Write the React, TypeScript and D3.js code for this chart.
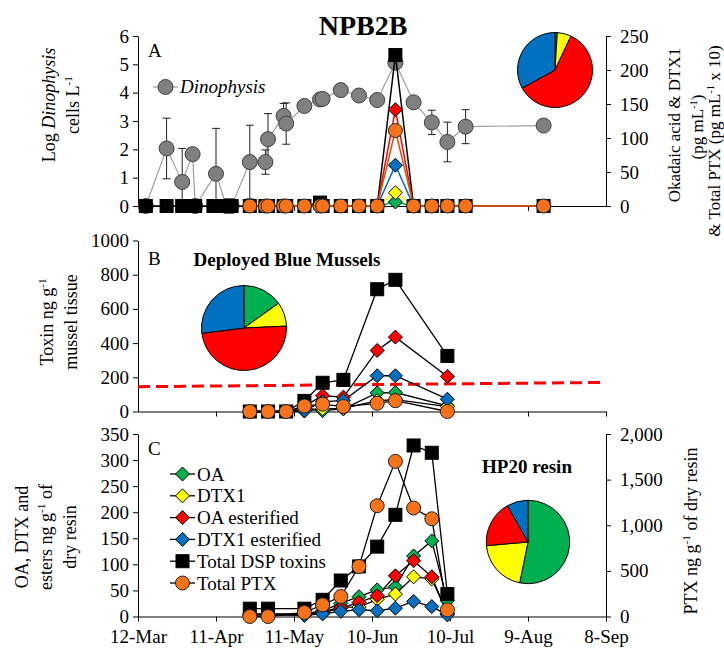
import React, { useEffect, useRef } from "react";
import * as d3 from "d3";

const FONT = "'Liberation Serif', 'Times New Roman', serif";
const parse = d3.timeParse("%Y-%m-%d");

// x axis ticks (every 30 days)
const tickDates = ["2014-03-12", "2014-04-11", "2014-05-11", "2014-06-10", "2014-07-10", "2014-08-09", "2014-09-08"];

// Panel A - Dinophysis (log cells/L)
const dinoDates = ["2014-03-15", "2014-03-23", "2014-03-29", "2014-04-02", "2014-04-03", "2014-04-11", "2014-04-15", "2014-04-17", "2014-04-24", "2014-04-30", "2014-05-01", "2014-05-07", "2014-05-08", "2014-05-15", "2014-05-21", "2014-05-22", "2014-05-29", "2014-06-05", "2014-06-12", "2014-06-19", "2014-06-26", "2014-07-03", "2014-07-09", "2014-07-16", "2014-08-15"];
const dinoLog = [0, 2.03, 0.85, 1.83, 0, 1.14, 0, 0, 1.55, 1.55, 2.36, 3.18, 2.91, 3.53, 3.76, 3.78, 4.09, 3.9, 3.74, 5.06, 3.66, 2.95, 2.26, 2.8, 2.84];
const dinoErr = [0, 1.07, 1.18, 0, 0, 1.6, 0, 0, 1.3, 0.43, 0.9, 0.44, 0.73, 0, 0, 0, 0, 0, 0, 0, 0, 0.43, 0.7, 0.6, 0];

// Panel A - toxins in water (pg/mL, PTX /10)
const waterDates = ["2014-03-15", "2014-03-23", "2014-03-29", "2014-03-31", "2014-04-03", "2014-04-10", "2014-04-12", "2014-04-15", "2014-04-17", "2014-04-24", "2014-04-30", "2014-05-01", "2014-05-07", "2014-05-08", "2014-05-15", "2014-05-21", "2014-05-22", "2014-05-29", "2014-06-05", "2014-06-12", "2014-06-19", "2014-06-26", "2014-07-03", "2014-07-09", "2014-07-16", "2014-08-15"];
const waterDSP = [0, 0, 0, 0, 0, 0, 0, 0, 0, 0, 0, 0, 0, 0, 0, 5, 0, 0, 0, 0, 222, 0, 0, 0, 0, 0];
const waterOA = [null, null, null, null, null, null, null, null, null, 0, 0, 0, 0, 0, 0, 0, 0, 0, 0, 0, 5.9, 0, 0, 0, 0, 0];
const waterDTX1 = [null, null, null, null, null, null, null, null, null, 0, 0, 0, 0, 0, 0, 0, 0, 0, 0, 0, 19.6, 0, 0, 0, 0, 0];
const waterOAest = [null, null, null, null, null, null, null, null, null, 0, 0, 0, 0, 0, 0, 0, 0, 0, 0, 0, 141.6, 0, 0, 0, 0, 0];
const waterDTX1est = [null, null, null, null, null, null, null, null, null, 0, 0, 0, 0, 0, 0, 0, 0, 0, 0, 0, 60, 0, 0, 0, 0, 0];
const waterPTX = [null, null, null, null, null, null, null, null, null, 0, 0, 0, 0, 0, 0, 0, 0, 0, 0, 0, 111, 0, 0, 0, 0, 0];
const pieA = [1, 6, 60, 33]; // OA, DTX1, OA est, DTX1 est

// Panel B - deployed blue mussels (ng/g)
const musselDates = ["2014-04-24", "2014-05-01", "2014-05-08", "2014-05-15", "2014-05-22", "2014-05-30", "2014-06-12", "2014-06-19", "2014-07-09"];
const musselDSP = [0, 0, 0, 62, 168, 185, 715, 770, 325];
const musselOA = [0, 0, 0, 22, 5, 15, 109, 111, 33];
const musselDTX1 = [0, 0, 0, 3, 16, 18, 63, 70, 29];
const musselOAest = [0, 0, 0, 32, 92, 84, 357, 435, 205];
const musselDTX1est = [0, 0, 0, 5, 58, 64, 209, 209, 72];
const musselPTX = [0, 0, 0, 32, 43, 29, 48, 63, 0];
const musselLimit = [145, 170]; // regulatory line, start / end
const pieB = [15.1, 9.2, 48.7, 27];

// Panel C - HP20 resin (ng/g dry resin)
const resinDates = ["2014-04-24", "2014-05-01", "2014-05-15", "2014-05-22", "2014-05-29", "2014-06-05", "2014-06-12", "2014-06-19", "2014-06-26", "2014-07-03", "2014-07-09"];
const resinDSP = [15, 15, 15, 32, 69, 96, 134, 195, 328, 314, 43];
const resinOA = [5, 5, 5, 11, 25, 38, 51, 57, 116, 145, 30];
const resinDTX1 = [3, 3, 3, 9, 18, 18, 33, 43, 76, 72, 6];
const resinOAest = [4, 4, 4, 7, 16, 27, 40, 78, 107, 76, 5];
const resinDTX1est = [3, 3, 2, 5, 10, 13, 11, 16, 29, 19, 3];
const resinPTX = [0, 0, 44, 128, 219, 548, 1214, 1700, 1189, 1071, 73];
const pieC = [53.2, 20.4, 18.2, 8.2];

const legendNames = ["OA", "DTX1", "OA esterified", "DTX1 esterified", "Total DSP toxins", "Total PTX"];

const C = {
  OA: "#00b050",
  DTX1: "#ffff00",
  OAest: "#ff0000",
  DTX1est: "#0070c0",
  DSP: "#000000",
  PTX: "#f6731a",
};
const pieColors = [C.OA, C.DTX1, C.OAest, C.DTX1est];

type Seg = { t: string; italic?: boolean; sup?: boolean; bold?: boolean };

function richText(parent: any, x: number, y: number, segs: Seg[], size: number, rotate = 0, anchor = "middle") {
  const t = parent
    .append("text")
    .attr("transform", `translate(${x},${y}) rotate(${rotate})`)
    .attr("text-anchor", anchor)
    .attr("font-family", FONT)
    .attr("font-size", size)
    .attr("fill", "#000");
  let shifted = false;
  segs.forEach((s) => {
    const ts = t.append("tspan").text(s.t);
    if (s.italic) ts.attr("font-style", "italic");
    if (s.bold) ts.attr("font-weight", "bold");
    if (s.sup) {
      ts.attr("font-size", size * 0.62).attr("dy", -size * 0.38);
      shifted = true;
    } else if (shifted) {
      ts.attr("dy", size * 0.38);
      shifted = false;
    }
  });
  return t;
}

function marker(g: any, kind: string, cx: number, cy: number, fill: string) {
  if (kind === "square") {
    g.append("rect").attr("x", cx - 6.5).attr("y", cy - 6.5).attr("width", 13).attr("height", 13)
      .attr("fill", fill).attr("stroke", "#000").attr("stroke-width", 1);
  } else if (kind === "diamond") {
    g.append("path").attr("d", `M${cx},${cy - 7}L${cx + 7},${cy}L${cx},${cy + 7}L${cx - 7},${cy}Z`)
      .attr("fill", fill).attr("stroke", "#000").attr("stroke-width", 1);
  } else {
    g.append("circle").attr("cx", cx).attr("cy", cy).attr("r", kind === "gray" ? 7.5 : 7)
      .attr("fill", fill).attr("stroke", kind === "gray" ? "#404040" : "#222").attr("stroke-width", 1);
  }
}

function App() {
  const ref = useRef<SVGSVGElement>(null);

  useEffect(() => {
    document.body.style.margin = "0";
    const svg = d3.select(ref.current);
    svg.selectAll("*").remove();

    const x = d3.scaleTime().domain([parse(tickDates[0])!, parse(tickDates[6])!]).range([138, 606]);
    const ticks = tickDates.map((d) => parse(d)!);

    const yA = d3.scaleLinear().domain([0, 6]).range([206, 36]);
    const yA2 = d3.scaleLinear().domain([0, 250]).range([206, 36]);
    const yB = d3.scaleLinear().domain([0, 1000]).range([411.5, 240.5]);
    const yC = d3.scaleLinear().domain([0, 350]).range([616.5, 434]);
    const yC2 = d3.scaleLinear().domain([0, 2000]).range([616.5, 434]);
    const fmtInt = d3.format("d");

    const styleAxis = (g: any) => {
      g.attr("font-family", FONT).attr("font-size", 19);
      g.selectAll("path,line").attr("stroke", "#000");
      g.selectAll("text").attr("fill", "#000");
    };

    // ---- axes ----
    const axA = svg.append("g");
    axA.append("g").attr("transform", "translate(138,0)")
      .call(d3.axisLeft(yA).tickValues(d3.range(0, 7)).tickFormat(fmtInt as any).tickSize(5).tickSizeOuter(0).tickPadding(4)).call(styleAxis);
    axA.append("g").attr("transform", "translate(606,0)")
      .call(d3.axisRight(yA2).tickValues(d3.range(0, 251, 50)).tickFormat(fmtInt as any).tickSize(5).tickSizeOuter(0).tickPadding(9)).call(styleAxis);
    axA.append("g").attr("transform", `translate(0,${yA(0)})`)
      .call(d3.axisBottom(x).tickValues(ticks.slice(1, 6)).tickFormat(() => "").tickSize(5).tickSizeOuter(0)).call(styleAxis);

    const axB = svg.append("g");
    axB.append("g").attr("transform", "translate(138,0)")
      .call(d3.axisLeft(yB).tickValues(d3.range(0, 1001, 200)).tickFormat(fmtInt as any).tickSize(5).tickSizeOuter(0).tickPadding(4)).call(styleAxis);
    axB.append("g").attr("transform", `translate(0,${yB(0)})`)
      .call(d3.axisBottom(x).tickValues(ticks.slice(1)).tickFormat(() => "").tickSize(5).tickSizeOuter(0)).call(styleAxis);

    const axC = svg.append("g");
    axC.append("g").attr("transform", "translate(138,0)")
      .call(d3.axisLeft(yC).tickValues(d3.range(0, 351, 50)).tickFormat(fmtInt as any).tickSize(5).tickSizeOuter(0).tickPadding(4)).call(styleAxis);
    axC.append("g").attr("transform", "translate(606,0)")
      .call(d3.axisRight(yC2).tickValues(d3.range(0, 2001, 500)).tickFormat(d3.format(",")).tickSize(5).tickSizeOuter(0).tickPadding(9)).call(styleAxis);
    axC.append("g").attr("transform", `translate(0,${yC(0)})`)
      .call(d3.axisBottom(x).tickValues(ticks).tickFormat(d3.timeFormat("%-d-%b") as any).tickSize(5).tickSizeOuter(0).tickPadding(8)).call(styleAxis);

    // ---- titles and labels ----
    svg.append("text").attr("x", 363).attr("y", 35).attr("text-anchor", "middle")
      .attr("font-family", FONT).attr("font-weight", "bold").attr("font-size", 28).text("NPB2B");
    richText(svg, 148, 57, [{ t: "A" }], 19, 0, "start");
    richText(svg, 148, 265, [{ t: "B" }], 19, 0, "start");
    richText(svg, 148, 455, [{ t: "C" }], 19, 0, "start");
    richText(svg, 287, 266, [{ t: "Deployed Blue Mussels", bold: true }], 19);
    richText(svg, 527, 473, [{ t: "HP20 resin", bold: true }], 19);

    richText(svg, 55, 105, [{ t: "Log " }, { t: "Dinophysis", italic: true }], 18, -90);
    richText(svg, 79, 105, [{ t: "cells L" }, { t: "-1", sup: true }], 18, -90);
    richText(svg, 53, 322, [{ t: "Toxin ng g" }, { t: "-1", sup: true }], 18, -90);
    richText(svg, 77, 322, [{ t: "mussel tissue" }], 18, -90);
    richText(svg, 28, 537, [{ t: "OA, DTX and" }], 18, -90);
    richText(svg, 52, 537, [{ t: "esters ng g" }, { t: "-1", sup: true }, { t: " of" }], 18, -90);
    richText(svg, 76, 537, [{ t: "dry resin" }], 18, -90);

    richText(svg, 680, 125, [{ t: "Okadaic acid & DTX1" }], 17, -90);
    richText(svg, 703, 127, [{ t: "(pg mL" }, { t: "-1", sup: true }, { t: ")" }], 17, -90);
    richText(svg, 720, 141, [{ t: "& Total PTX (pg mL" }, { t: "-1", sup: true }, { t: " x 10)" }], 17, -90);
    richText(svg, 697, 531, [{ t: "PTX ng g" }, { t: "-1", sup: true }, { t: " of dry resin" }], 18, -90);

    // ---- helpers ----
    const lineOf = (g: any, dates: string[], vals: (number | null)[], y: any, color: string, w: number) => {
      const pts = dates.map((d, i) => [parse(d)!, vals[i]] as [Date, number | null]).filter((p) => p[1] !== null);
      const gen = d3.line<[Date, number | null]>().x((p) => x(p[0])).y((p) => y(p[1] as number));
      g.append("path").attr("d", gen(pts)).attr("fill", "none").attr("stroke", color).attr("stroke-width", w);
    };
    const marksOf = (g: any, dates: string[], vals: (number | null)[], y: any, kind: string, fill: string) => {
      dates.forEach((d, i) => {
        if (vals[i] === null) return;
        marker(g, kind, x(parse(d)!), y(vals[i] as number), fill);
      });
    };
    const pieOf = (g: any, cx: number, cy: number, r: number, vals: number[]) => {
      const arcs = d3.pie<number>().sort(null).value((d) => d)(vals);
      const arc = d3.arc<d3.PieArcDatum<number>>().innerRadius(0).outerRadius(r);
      const pg = g.append("g").attr("transform", `translate(${cx},${cy})`);
      pg.selectAll("path").data(arcs).enter().append("path")
        .attr("d", arc as any).attr("fill", (_: any, i: number) => pieColors[i])
        .attr("stroke", "#000").attr("stroke-width", 1);
    };

    // ---- panel A ----
    const gA = svg.append("g");
    lineOf(gA, dinoDates, dinoLog, yA, "#a0a0a0", 1.2);
    dinoDates.forEach((d, i) => {
      const e = dinoErr[i];
      if (!e) return;
      const cx = x(parse(d)!);
      const top = yA(dinoLog[i] + e);
      const lowVal = dinoLog[i] - e;
      const bot = yA(Math.max(0, lowVal));
      gA.append("line").attr("x1", cx).attr("x2", cx).attr("y1", top).attr("y2", bot).attr("stroke", "#222").attr("stroke-width", 1);
      gA.append("line").attr("x1", cx - 4).attr("x2", cx + 4).attr("y1", top).attr("y2", top).attr("stroke", "#222");
      if (lowVal > 0) gA.append("line").attr("x1", cx - 4).attr("x2", cx + 4).attr("y1", bot).attr("y2", bot).attr("stroke", "#222");
    });
    marksOf(gA, dinoDates, dinoLog, yA, "gray", "#808080");

    lineOf(gA, waterDates, waterDSP, yA2, C.DSP, 1.5);
    lineOf(gA, waterDates, waterOA, yA2, C.OA, 1.5);
    lineOf(gA, waterDates, waterDTX1, yA2, C.DTX1, 1.5);
    lineOf(gA, waterDates, waterDTX1est, yA2, C.DTX1est, 1.5);
    lineOf(gA, waterDates, waterOAest, yA2, C.OAest, 1.5);
    lineOf(gA, waterDates, waterPTX, yA2, "#c55a11", 1.5);
    marksOf(gA, waterDates, waterDSP, yA2, "square", C.DSP);
    marksOf(gA, waterDates, waterOA, yA2, "diamond", C.OA);
    marksOf(gA, waterDates, waterDTX1, yA2, "diamond", C.DTX1);
    marksOf(gA, waterDates, waterOAest, yA2, "diamond", C.OAest);
    marksOf(gA, waterDates, waterDTX1est, yA2, "diamond", C.DTX1est);
    marksOf(gA, waterDates, waterPTX, yA2, "circle", C.PTX);

    // legend A
    gA.append("line").attr("x1", 153).attr("x2", 178).attr("y1", 87).attr("y2", 87).attr("stroke", "#a0a0a0").attr("stroke-width", 1.2);
    marker(gA, "gray", 165.5, 87, "#808080");
    richText(gA, 180, 93, [{ t: "Dinophysis", italic: true }], 19, 0, "start");
    pieOf(gA, 555, 70, 37.5, pieA);

    // ---- panel B ----
    const gB = svg.append("g");
    pieOf(gB, 244, 328, 42.5, pieB);
    gB.append("line").attr("x1", 138).attr("x2", 606)
      .attr("y1", yB(musselLimit[0])).attr("y2", yB(musselLimit[1]))
      .attr("stroke", "#ff0000").attr("stroke-width", 3).attr("stroke-dasharray", "12,6");
    const bSeries: [number[], string, string][] = [
      [musselOA, "diamond", C.OA],
      [musselDTX1, "diamond", C.DTX1],
      [musselOAest, "diamond", C.OAest],
      [musselDTX1est, "diamond", C.DTX1est],
      [musselDSP, "square", C.DSP],
      [musselPTX, "circle", C.PTX],
    ];
    bSeries.forEach(([v]) => lineOf(gB, musselDates, v, yB, "#000", 1.3));
    bSeries.forEach(([v, k, c]) => marksOf(gB, musselDates, v, yB, k, c));

    // ---- panel C ----
    const gC = svg.append("g");
    const cSeries: [number[], string, string, any][] = [
      [resinOA, "diamond", C.OA, yC],
      [resinDTX1, "diamond", C.DTX1, yC],
      [resinOAest, "diamond", C.OAest, yC],
      [resinDTX1est, "diamond", C.DTX1est, yC],
      [resinDSP, "square", C.DSP, yC],
      [resinPTX, "circle", C.PTX, yC2],
    ];
    cSeries.forEach(([v, , , y]) => lineOf(gC, resinDates, v, y, "#000", 1.3));
    cSeries.forEach(([v, k, c, y]) => marksOf(gC, resinDates, v, y, k, c));
    pieOf(gC, 528, 542, 41.7, pieC);

    // legend C
    cSeries.forEach(([, k, c], i) => {
      const ly = 474 + i * 21.8;
      gC.append("line").attr("x1", 170).attr("x2", 195).attr("y1", ly).attr("y2", ly).attr("stroke", "#000").attr("stroke-width", 1.3);
      marker(gC, k, 182.5, ly, c);
      richText(gC, 197, ly + 6.5, [{ t: legendNames[i] }], 19, 0, "start");
    });
  }, []);

  return <svg ref={ref} width={724} height={648} style={{ display: "block", background: "#fff" }} />;
}

export default App;
